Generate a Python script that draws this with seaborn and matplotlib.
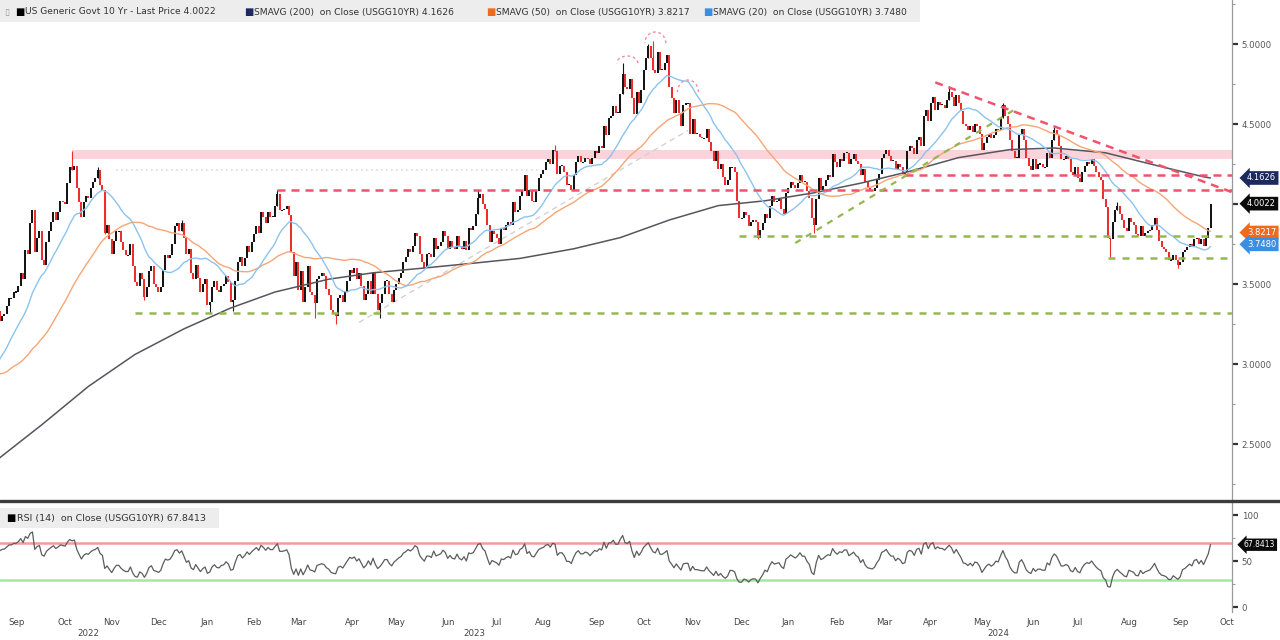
import numpy as np
import pandas as pd
import matplotlib
matplotlib.use("Agg")
import matplotlib.pyplot as plt
import matplotlib.transforms as mtransforms
from matplotlib.patches import Arc, Rectangle
from matplotlib.lines import Line2D
import seaborn as sns

# ---------------- DATA (USGG10YR daily closes, %) ----------------
# warm-up sessions before the visible window (feed SMA20 / SMA50 / RSI)
warmup_2022_06 = [3.31, 3.16, 3.09, 3.13, 3.20, 3.20, 3.09, 3.01]
warmup_2022_07 = [2.88, 2.81, 2.93, 3.00, 3.08, 2.99, 2.96, 2.91, 2.96, 2.93,
                  2.99, 3.03, 3.03, 2.91, 2.78, 2.81, 2.81, 2.78, 2.68, 2.65]
warmup_2022_08 = [2.58, 2.75, 2.73, 2.68, 2.83, 2.76, 2.79, 2.78, 2.89, 2.84, 2.79,
                  2.82, 2.90, 2.88, 2.98, 3.03, 3.05, 3.11, 3.03, 3.04, 3.11, 3.11, 3.19]

close_2022_09 = [3.26, 3.19, 3.33, 3.27, 3.30, 3.31, 3.36, 3.41, 3.41, 3.45, 3.45,
                 3.49, 3.57, 3.53, 3.71, 3.69, 3.88, 3.96, 3.70, 3.79, 3.83]
close_2022_10 = [3.65, 3.62, 3.76, 3.83, 3.89, 3.95, 3.90, 3.95, 4.02, 4.01,
                 4.00, 4.13, 4.23, 4.21, 4.24, 4.10, 4.01, 3.92, 4.01, 4.05]
close_2022_11 = [4.04, 4.10, 4.14, 4.16, 4.21, 4.12, 4.09, 3.82, 3.87, 3.78,
                 3.69, 3.77, 3.83, 3.83, 3.76, 3.71, 3.68, 3.68, 3.75, 3.61]
close_2022_12 = [3.51, 3.49, 3.57, 3.53, 3.42, 3.48, 3.58, 3.61, 3.50, 3.48, 3.45,
                 3.48, 3.59, 3.68, 3.66, 3.68, 3.75, 3.86, 3.88, 3.83, 3.88]
close_2023_01 = [3.79, 3.69, 3.72, 3.57, 3.53, 3.62, 3.54, 3.45, 3.50, 3.53,
                 3.37, 3.39, 3.48, 3.52, 3.46, 3.45, 3.49, 3.50, 3.55, 3.51]
close_2023_02 = [3.39, 3.40, 3.52, 3.64, 3.67, 3.61, 3.66, 3.74, 3.70, 3.76,
                 3.81, 3.86, 3.82, 3.95, 3.92, 3.88, 3.95, 3.92, 3.92]
close_2023_03 = [3.99, 4.06, 3.96, 3.96, 3.97, 3.99, 3.93, 3.70, 3.55, 3.64, 3.46, 3.58,
                 3.39, 3.48, 3.61, 3.45, 3.43, 3.38, 3.53, 3.55, 3.57, 3.55, 3.47]
close_2023_04 = [3.43, 3.34, 3.31, 3.30, 3.41, 3.43, 3.39, 3.45, 3.52, 3.59,
                 3.57, 3.60, 3.53, 3.57, 3.49, 3.40, 3.44, 3.52, 3.44]
close_2023_05 = [3.57, 3.44, 3.34, 3.38, 3.44, 3.52, 3.52, 3.44, 3.39, 3.46, 3.50,
                 3.54, 3.57, 3.64, 3.67, 3.72, 3.70, 3.74, 3.82, 3.80, 3.69, 3.64]
close_2023_06 = [3.60, 3.69, 3.69, 3.67, 3.79, 3.72, 3.74, 3.76, 3.83, 3.80, 3.72,
                 3.77, 3.73, 3.72, 3.80, 3.74, 3.72, 3.77, 3.71, 3.85, 3.84]
close_2023_07 = [3.86, 3.94, 4.04, 4.06, 4.00, 3.97, 3.87, 3.76, 3.83, 3.81,
                 3.79, 3.75, 3.85, 3.84, 3.87, 3.89, 3.87, 4.01, 3.95, 3.96]
close_2023_08 = [4.05, 4.08, 4.18, 4.05, 4.09, 4.02, 4.01, 4.08, 4.16, 4.19, 4.21, 4.26,
                 4.28, 4.25, 4.34, 4.33, 4.19, 4.24, 4.24, 4.20, 4.12, 4.12, 4.09]
close_2023_09 = [4.18, 4.26, 4.30, 4.26, 4.26, 4.29, 4.28, 4.25, 4.29, 4.33,
                 4.32, 4.36, 4.35, 4.49, 4.43, 4.54, 4.55, 4.61, 4.57, 4.57]
close_2023_10 = [4.69, 4.81, 4.73, 4.72, 4.78, 4.66, 4.56, 4.70, 4.63, 4.71, 4.84,
                 4.91, 4.99, 4.91, 4.84, 4.82, 4.95, 4.84, 4.84, 4.88, 4.93]
close_2023_11 = [4.73, 4.66, 4.57, 4.65, 4.57, 4.49, 4.62, 4.63, 4.63, 4.44, 4.53,
                 4.44, 4.44, 4.42, 4.41, 4.41, 4.47, 4.39, 4.33, 4.27, 4.33]
close_2023_12 = [4.22, 4.25, 4.17, 4.12, 4.15, 4.23, 4.23, 4.20, 4.02, 3.91,
                 3.91, 3.95, 3.93, 3.86, 3.89, 3.90, 3.89, 3.79, 3.84, 3.88]
close_2024_01 = [3.94, 3.91, 3.99, 4.05, 4.01, 4.02, 4.03, 3.97, 3.94, 4.07, 4.10,
                 4.14, 4.12, 4.10, 4.13, 4.18, 4.14, 4.14, 4.08, 4.04, 3.91]
close_2024_02 = [3.87, 4.03, 4.16, 4.09, 4.11, 4.15, 4.18, 4.17, 4.31, 4.26,
                 4.23, 4.28, 4.27, 4.32, 4.32, 4.25, 4.28, 4.31, 4.27, 4.25]
close_2024_03 = [4.18, 4.22, 4.14, 4.10, 4.09, 4.08, 4.10, 4.15, 4.19, 4.29,
                 4.31, 4.34, 4.30, 4.27, 4.27, 4.22, 4.25, 4.23, 4.19, 4.20]
close_2024_04 = [4.33, 4.36, 4.35, 4.31, 4.40, 4.42, 4.36, 4.55, 4.59, 4.52, 4.63,
                 4.67, 4.59, 4.64, 4.62, 4.62, 4.60, 4.65, 4.70, 4.67, 4.61, 4.68]
close_2024_05 = [4.63, 4.58, 4.50, 4.49, 4.46, 4.49, 4.45, 4.50, 4.49, 4.44, 4.34,
                 4.38, 4.42, 4.44, 4.41, 4.43, 4.47, 4.46, 4.54, 4.62, 4.55, 4.50]
close_2024_06 = [4.40, 4.33, 4.29, 4.29, 4.43, 4.47, 4.40, 4.29, 4.24, 4.21,
                 4.28, 4.22, 4.25, 4.25, 4.23, 4.23, 4.32, 4.29, 4.40]
close_2024_07 = [4.46, 4.43, 4.36, 4.28, 4.28, 4.30, 4.28, 4.20, 4.18, 4.23, 4.16,
                 4.14, 4.20, 4.24, 4.26, 4.25, 4.28, 4.24, 4.20, 4.17, 4.15, 4.03]
close_2024_08 = [3.98, 3.79, 3.78, 3.89, 3.96, 3.99, 3.94, 3.90, 3.85, 3.83, 3.91,
                 3.89, 3.87, 3.81, 3.80, 3.86, 3.80, 3.82, 3.83, 3.84, 3.87, 3.91]
close_2024_09 = [3.84, 3.77, 3.73, 3.72, 3.70, 3.65, 3.65, 3.68, 3.65, 3.62,
                 3.64, 3.70, 3.71, 3.73, 3.75, 3.73, 3.78, 3.79, 3.75, 3.78]
close_2024_10 = [3.74, 3.79, 3.85, 4.0022]

month_keys = ["2022-09", "2022-10", "2022-11", "2022-12",
              "2023-01", "2023-02", "2023-03", "2023-04", "2023-05", "2023-06",
              "2023-07", "2023-08", "2023-09", "2023-10", "2023-11", "2023-12",
              "2024-01", "2024-02", "2024-03", "2024-04", "2024-05", "2024-06",
              "2024-07", "2024-08", "2024-09", "2024-10"]
month_closes = [close_2022_09, close_2022_10, close_2022_11, close_2022_12,
                close_2023_01, close_2023_02, close_2023_03, close_2023_04,
                close_2023_05, close_2023_06, close_2023_07, close_2023_08,
                close_2023_09, close_2023_10, close_2023_11, close_2023_12,
                close_2024_01, close_2024_02, close_2024_03, close_2024_04,
                close_2024_05, close_2024_06, close_2024_07, close_2024_08,
                close_2024_09, close_2024_10]
month_names = ["Sep", "Oct", "Nov", "Dec", "Jan", "Feb", "Mar", "Apr", "May", "Jun",
               "Jul", "Aug", "Sep", "Oct", "Nov", "Dec", "Jan", "Feb", "Mar", "Apr",
               "May", "Jun", "Jul", "Aug", "Sep", "Oct"]

# intraday extremes (month, session in month, yield)
wick_extremes = [("2022-10", 13, 4.33), ("2022-11", 4, 4.23), ("2022-11", 7, 3.81),
                 ("2022-12", 4, 3.40), ("2022-12", 20, 3.90), ("2023-01", 11, 3.32),
                 ("2023-02", 1, 3.33), ("2023-03", 1, 4.09), ("2023-03", 17, 3.29),
                 ("2023-04", 3, 3.25), ("2023-05", 3, 3.29), ("2023-07", 2, 4.09),
                 ("2023-08", 15, 4.37), ("2023-10", 1, 4.88), ("2023-10", 12, 5.00),
                 ("2023-10", 14, 5.02), ("2023-12", 17, 3.78), ("2024-02", 0, 3.82),
                 ("2024-04", 18, 4.74), ("2024-05", 19, 4.63), ("2024-07", 0, 4.48),
                 ("2024-08", 2, 3.67), ("2024-08", 5, 4.01), ("2024-09", 9, 3.60)]

# SMAVG(200) read at the first session of each month, plus last value
ma200_month_start = [2.38, 2.62, 2.86, 3.06, 3.22, 3.35, 3.45, 3.53, 3.57, 3.60,
                     3.63, 3.66, 3.72, 3.79, 3.90, 3.99, 4.02, 4.07, 4.13, 4.20,
                     4.29, 4.34, 4.35, 4.32, 4.24, 4.17]
ma200_last = 4.1626

last_price, sma200_last, sma50_last, sma20_last, rsi_last = 4.0022, 4.1626, 3.8217, 3.7480, 67.8413
y_ticks = [2.5, 3.0, 3.5, 4.0, 4.5, 5.0]
rsi_ticks = [0, 50, 100]

resistance_band = (4.28, 4.34)
red_levels = [(("2023-03", 1), 4.09), (("2024-03", 19), 4.18)]
green_levels = [(("2022-12", 0), 3.32), (("2023-12", 9), 3.80), (("2024-08", 1), 3.66)]
down_trend = [(("2024-04", 12), 4.76), (("2024-10", 12), 4.075)]
up_trend = [(("2024-01", 13), 3.756), (("2024-06", 2), 4.59)]
faint_trend = [(("2023-04", 13), 3.26), (("2023-11", 8), 4.46)]
faint_level = [(("2022-11", 12), 4.21), (("2023-08", 8), 4.21)]
hs_arcs = [(("2023-10", 3), 4.88, 0.09), (("2023-10", 15), 5.005, 0.14), (("2023-11", 8), 4.70, 0.15)]

# ---------------- PREP ----------------
month_start = {}
vis = []
for k, vals in zip(month_keys, month_closes):
    month_start[k] = len(vis)
    vis.extend(vals)


def idx(key, p):
    return month_start[key] + p


warm = np.array(warmup_2022_06 + warmup_2022_07 + warmup_2022_08)
close = np.array(vis)
n_w = len(warm)
x = np.arange(len(close))
full = pd.Series(np.r_[warm, close])
ma20 = full.rolling(20).mean().to_numpy()[n_w:]
ma50 = full.rolling(50).mean().to_numpy()[n_w:]
d = full.diff()
ag = d.clip(lower=0).ewm(alpha=1 / 14, adjust=False).mean()
al = (-d).clip(lower=0).ewm(alpha=1 / 14, adjust=False).mean()
rsi = (100 - 100 / (1 + ag / al)).to_numpy()[n_w:]

opens = np.r_[warm[-1], close[:-1]]
lo = np.minimum(opens, close)
hi = np.maximum(opens, close)
mid = (lo + hi) / 2
thin = (hi - lo) < 0.008
lo[thin] = mid[thin] - 0.004
hi[thin] = mid[thin] + 0.004
up = close >= opens

# ---------------- FIGURE ----------------
sns.set_theme(style="white")
plt.rcParams["font.family"] = ["DejaVu Sans"]

W, H = 1280, 640
AXR = 1232
XLIM = (3.1, 531.2)
fig = plt.figure(figsize=(12.8, 6.4), dpi=100)


def fx(px):
    return px / W


def fy(py):
    return 1 - py / H


ax = fig.add_axes([0, fy(499), fx(AXR), fy(0) - fy(499)])
axr = fig.add_axes([0, fy(612), fx(AXR), fy(503) - fy(612)])

UP_C, DN_C = "#151515", "#ee2d2d"
RED_D, GRN_D = "#f0536c", "#93b84d"

# annotations (behind)
i0 = idx("2022-10", 13)
ax.fill_between([i0, XLIM[1]], resistance_band[0], resistance_band[1],
                color="#fbd3da", lw=0, zorder=1)
(fa, fv), (fb, fv2) = faint_level
ax.plot([idx(*fa), idx(*fb)], [fv, fv2], color="#dcdcdc", lw=1.2, ls=(0, (1, 2)), zorder=1)
(ta, tv), (tb, tv2) = faint_trend
ax.plot([idx(*ta), idx(*tb)], [tv, tv2], color="#d2d2d2", lw=1.0, ls=(0, (4, 3)), zorder=1)

# candles
ax.vlines(x[up], lo[up], hi[up], color=UP_C, lw=1.45, zorder=3)
ax.vlines(x[~up], lo[~up], hi[~up], color=DN_C, lw=1.45, zorder=3)
for key, p, val in wick_extremes:
    i = idx(key, p)
    c = UP_C if up[i] else DN_C
    ax.vlines(i, min(val, lo[i]), max(val, hi[i]), color=c, lw=0.8, zorder=3)

# moving averages
ma200_x = [month_start[k] for k in month_keys] + [len(close) - 1]
ma200_y = ma200_month_start + [ma200_last]
sns.lineplot(x=ma200_x, y=ma200_y, ax=ax, color="#55555f", linewidth=1.1, zorder=4, legend=False)
sns.lineplot(x=x, y=ma50, ax=ax, color="#f6a676", linewidth=1.0, zorder=4, legend=False)
sns.lineplot(x=x, y=ma20, ax=ax, color="#8cc3ee", linewidth=1.0, zorder=4, legend=False)

# levels and trend lines
for (k, lvl) in red_levels:
    ax.plot([idx(*k), XLIM[1]], [lvl, lvl], color=RED_D, lw=1.8, ls=(0, (3.2, 2.4)), zorder=5)
for (k, lvl) in green_levels:
    ax.plot([idx(*k), XLIM[1]], [lvl, lvl], color=GRN_D, lw=1.8, ls=(0, (2.8, 2.8)), zorder=5)
(da, dv), (db, dv2) = down_trend
ax.plot([idx(*da), idx(*db)], [dv, dv2], color=RED_D, lw=1.8, ls=(0, (3.2, 2.4)), zorder=5)
(ua, uv), (ub, uv2) = up_trend
ax.plot([idx(*ua), idx(*ub)], [uv, uv2], color=GRN_D, lw=1.6, ls=(0, (2.8, 2.8)), zorder=5)
for (k, cy, hgt) in hs_arcs:
    ax.add_patch(Arc((idx(*k), cy), 9.0, hgt, theta1=0, theta2=180,
                     color="#f28e9e", lw=1.0, ls=(0, (2, 2)), zorder=5))

ax.set_xlim(*XLIM)
ax.set_ylim(5.0 - 455 / 160, 5.0 + 44 / 160)
ax.set_ylabel("")
ax.set_xlabel("")
ax.yaxis.tick_right()
ax.set_yticks(y_ticks)
# the 4.0000 label sits under the last-price tag in the reference
ax.set_yticklabels(["" if v == 4.0 else f"{v:.4f}" for v in y_ticks])
ax.set_yticks([2.25, 2.75, 3.25, 3.75, 4.25, 4.75, 5.25], minor=True)
ax.tick_params(axis="y", which="major", direction="out", length=4, width=1.6,
               color="#333333", labelsize=6.2, labelcolor="#555555", pad=3)
ax.tick_params(axis="y", which="minor", direction="out", length=2, width=0.8, color="#999999")
ax.set_xticks([])
for s in ["top", "left", "bottom"]:
    ax.spines[s].set_visible(False)
ax.spines["right"].set_color("#9a9a9a")
ax.spines["right"].set_linewidth(0.9)

# price tags
trans = mtransforms.blended_transform_factory(ax.transAxes, ax.transData)
for val, txt, col in [(sma200_last, f"{sma200_last:.4f}", "#1c2a5e"),
                      (last_price, f"{last_price:.4f}", "#0a0a0a"),
                      (sma50_last, f"{sma50_last:.4f}", "#f06a1c"),
                      (sma20_last, f"{sma20_last:.4f}", "#3c8fe0")]:
    ax.text(1247 / AXR, val, txt, transform=trans, ha="left", va="center", fontsize=6,
            color="white", clip_on=False, zorder=10,
            bbox=dict(boxstyle="larrow,pad=0.28", fc=col, ec="none"))

# ---------------- RSI panel ----------------
axr.axhline(70, color="#f49a9a", lw=1.8, zorder=1)
axr.axhline(30, color="#a4e6a4", lw=1.8, zorder=1)
sns.lineplot(x=x, y=rsi, ax=axr, color="#5c5c5c", linewidth=0.9, zorder=3, legend=False)
axr.set_xlim(*XLIM)
axr.set_ylim(-5, 113)
axr.set_ylabel("")
axr.set_xlabel("")
axr.yaxis.tick_right()
axr.set_yticks(rsi_ticks)
axr.set_yticklabels([str(v) for v in rsi_ticks])
axr.set_yticks([25, 75], minor=True)
axr.tick_params(axis="y", which="major", direction="out", length=4, width=1.6,
                color="#333333", labelsize=6.2, labelcolor="#555555", pad=3)
axr.tick_params(axis="y", which="minor", direction="out", length=2, width=0.8, color="#999999")
for s in ["top", "left", "bottom"]:
    axr.spines[s].set_visible(False)
axr.spines["right"].set_color("#9a9a9a")
axr.spines["right"].set_linewidth(0.9)
tr = mtransforms.blended_transform_factory(axr.transAxes, axr.transData)
axr.text(1244 / AXR, rsi_last, f"{rsi_last:.4f}", transform=tr, ha="left", va="center",
         fontsize=5.5, color="white", clip_on=False, zorder=10,
         bbox=dict(boxstyle="larrow,pad=0.22", fc="#0a0a0a", ec="none"))

# month and year labels
tick_pos = [month_start[k] + 10 for k in month_keys]
axr.set_xticks(tick_pos)
axr.set_xticklabels(month_names)
axr.tick_params(axis="x", length=0, labelsize=6.2, labelcolor="#444444", pad=4)
trx = mtransforms.blended_transform_factory(axr.transData, axr.transAxes)
years = sorted(set(k[:4] for k in month_keys))
for yr in years:
    ks = [k for k in month_keys if k.startswith(yr)]
    a = month_start[ks[0]]
    nxt = [k for k in month_keys if k[:4] > yr]
    b = month_start[nxt[0]] if nxt else XLIM[1]
    axr.text((a + b) / 2, (612 - 634) / 109, yr, transform=trx, ha="center", va="center",
             fontsize=6.2, color="#444444")

# ---------------- header legends ----------------
fig.patches.append(Rectangle((0, fy(22)), fx(920), fy(0) - fy(22), transform=fig.transFigure,
                             fc="#ededed", ec="none", zorder=8))
fig.patches.append(Rectangle((0, fy(528)), fx(219), fy(508) - fy(528), transform=fig.transFigure,
                             fc="#ededed", ec="none", zorder=8))
LF = 6.6
hy = fy(12)
fig.text(fx(4), hy, "\u25af", fontsize=LF, color="#9a9a9a", va="center", zorder=9)
items = [(15, "#000000", "US Generic Govt 10 Yr - Last Price 4.0022"),
         (244, "#1c2a5e", "SMAVG (200)  on Close (USGG10YR) 4.1626"),
         (486, "#f06a1c", "SMAVG (50)  on Close (USGG10YR) 3.8217"),
         (703, "#3c8fe0", "SMAVG (20)  on Close (USGG10YR) 3.7480")]
for px, col, txt in items:
    fig.text(fx(px), hy, "\u25a0", fontsize=LF + 0.5, color=col, va="center", zorder=9)
    fig.text(fx(px + 10), hy, txt, fontsize=LF, color="#333333", va="center", zorder=9)
ry = fy(518)
fig.text(fx(6), ry, "\u25a0", fontsize=LF + 0.5, color="#000000", va="center", zorder=9)
fig.text(fx(17), ry, "RSI (14)  on Close (USGG10YR) 67.8413", fontsize=LF + 0.2, color="#333333",
         va="center", zorder=9)

fig.add_artist(Line2D([0, 1], [fy(501), fy(501)], transform=fig.transFigure,
                      color="#3c3c3c", lw=2.4, zorder=8))

fig.savefig("out.png", dpi=100)
